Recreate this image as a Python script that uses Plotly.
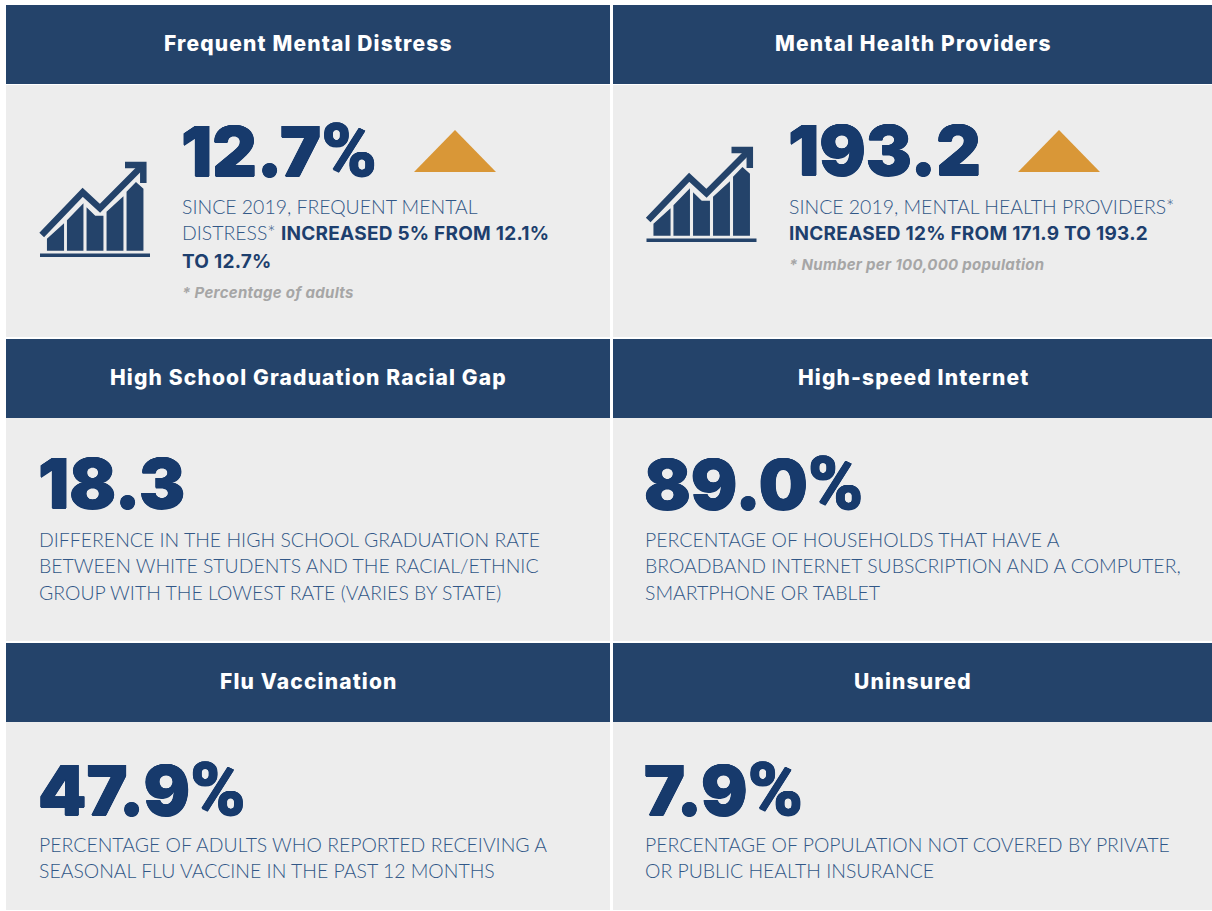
import plotly.graph_objects as go

W, H = 1212, 911
NAVY = "#24436a"
BIG = "#173a6c"
BODY = "#315787"
BOLD = "#1d3f6e"
GOLD = "#d99737"
PANEL = "#ededed"
NOTE = "#a6a6a6"

titles = ["Frequent Mental Distress", "Mental Health Providers",
          "High School Graduation Racial Gap", "High-speed Internet",
          "Flu Vaccination", "Uninsured"]
numbers = ["12.7", "193.2", "18.3", "89.0", "47.9", "7.9"]
units = ["%", "", "", "%", "%", "%"]
body_lines = [
    [("SINCE 2019, FREQUENT MENTAL", ""), ("DISTRESS* ", "INCREASED 5% FROM 12.1%"), ("", "TO 12.7%")],
    [("SINCE 2019, MENTAL HEALTH PROVIDERS*", ""), ("", "INCREASED 12% FROM 171.9 TO 193.2")],
    [("DIFFERENCE IN THE HIGH SCHOOL GRADUATION RATE", ""), ("BETWEEN WHITE STUDENTS AND THE RACIAL/ETHNIC", ""), ("GROUP WITH THE LOWEST RATE (VARIES BY STATE)", "")],
    [("PERCENTAGE OF HOUSEHOLDS THAT HAVE A", ""), ("BROADBAND INTERNET SUBSCRIPTION AND A COMPUTER,", ""), ("SMARTPHONE OR TABLET", "")],
    [("PERCENTAGE OF ADULTS WHO REPORTED RECEIVING A", ""), ("SEASONAL FLU VACCINE IN THE PAST 12 MONTHS", "")],
    [("PERCENTAGE OF POPULATION NOT COVERED BY PRIVATE", ""), ("OR PUBLIC HEALTH INSURANCE", "")],
]
notes = ["* Percentage of adults", "* Number per 100,000 population", None, None, None, None]

col_x = [(6, 610), (613, 1212)]
row_head = [(5, 84), (339, 418), (643, 722)]
row_body = [(85, 337), (418, 641), (722, 910)]
text_x = [182, 789, 39, 645, 39, 645]
num_x = [180.5, 787.5, 37.5, 643.5, 37.5, 643.5]
num_y = [150, 150, 483, 483, 789, 789]
line_y = [[206, 233, 261], [206, 233], [539, 565, 592], [539, 565, 592], [844, 870], [844, 870]]
note_y = [292, 264, None, None, None, None]

fig = go.Figure()
shapes, ann = [], []


def text(x, y, s, size, color, family, weight=400, anchor="left", shadow=None):
    font = dict(size=size, color=color, family=family, weight=weight)
    if shadow:
        font["shadow"] = shadow
    ann.append(dict(x=x, y=y, xref="x", yref="y", text=s, showarrow=False, xanchor=anchor, yanchor="middle",
                    font=font, borderpad=0, borderwidth=0))


def poly(points, fill=None, line=None, width=0):
    path = "M" + " L".join(f"{x},{y}" for x, y in points)
    if fill:
        path += " Z"
    shapes.append(dict(type="path", path=path, xref="x", yref="y", layer="above",
                       fillcolor=fill if fill else "rgba(0,0,0,0)",
                       line=dict(color=line if line else "rgba(0,0,0,0)", width=width)))


def icon(dx, dy):
    def o(pts):
        return [(x + dx, y + dy) for x, y in pts]
    bars = [
        [(47.7, 250), (47.7, 239), (63.3, 225), (63.3, 250)],
        [(67.7, 250), (67.7, 220.5), (82.7, 205), (82.7, 250)],
        [(87.3, 250), (87.3, 209), (95, 216.5), (102.7, 216.5), (102.7, 250)],
        [(107.3, 250), (107.3, 212), (122.7, 198), (122.7, 250)],
        [(127.3, 250), (127.3, 192), (136, 183), (142.7, 189), (142.7, 250)],
    ]
    for b in bars:
        poly(o(b), fill=NAVY, line=NAVY, width=1.5)
    poly(o([(41.7, 235), (82.7, 192.3), (100, 208.3), (143, 165)]), line=NAVY, width=6.5)
    poly(o([(125, 165), (143.3, 165), (143.3, 183)]), line=NAVY, width=6.5)
    poly(o([(40, 253.5), (150, 253.5), (150, 257), (40, 257)]), fill=NAVY)


def body_markup(light, bold):
    out = light
    if bold:
        out += ('<span style="font-family:Inter;font-weight:700;font-size:19px;letter-spacing:0.25px;'
                f'fill:{BOLD}">{bold}</span>')
    return out


heavy = f"0.5px 0 0 {BIG}, -0.5px 0 0 {BIG}, 0 0.5px 0 {BIG}, 0 -0.5px 0 {BIG}"

for i in range(6):
    c, r = i % 2, i // 2
    x0, x1 = col_x[c]
    shapes.append(dict(type="rect", xref="x", yref="y", x0=x0, x1=x1, y0=row_head[r][0], y1=row_head[r][1],
                       fillcolor=NAVY, line_width=0, layer="below"))
    shapes.append(dict(type="rect", xref="x", yref="y", x0=x0, x1=x1, y0=row_body[r][0], y1=row_body[r][1],
                       fillcolor=PANEL, line_width=0, layer="below"))
    text((x0 + x1) / 2 + 0.5, sum(row_head[r]) / 2 - 1,
         f'<span style="letter-spacing:1.15px">{titles[i]}</span>', 21, "#ffffff", "Inter", 800, "center")
    num = numbers[i]
    if units[i]:
        num += f'<span style="font-family:Roboto;font-weight:900;font-size:75px">{units[i]}</span>'
    text(num_x[i], num_y[i], num, 69, BIG, "Inter", 900, shadow=heavy)
    for (light, bold), y in zip(body_lines[i], line_y[i]):
        text(text_x[i], y, body_markup(light, bold), 19.45, BODY, "Lato", 300)
    if notes[i]:
        text(text_x[i], note_y[i], f'<i><span style="letter-spacing:0.3px">{notes[i]}</span></i>', 15, NOTE, "Inter", 700)

poly([(414, 172), (496, 172), (455, 130)], fill=GOLD)
poly([(1018, 172), (1100, 172), (1059, 130)], fill=GOLD)
icon(0, 0)
icon(606.5, -15)

fig.add_trace(go.Scatter(x=[], y=[], showlegend=False))
fig.update_layout(
    width=W, height=H, margin=dict(l=0, r=0, t=0, b=0), paper_bgcolor="white", plot_bgcolor="white",
    xaxis=dict(range=[0, W], visible=False, fixedrange=True),
    yaxis=dict(range=[H, 0], visible=False, fixedrange=True),
    shapes=shapes, annotations=ann, showlegend=False,
)
fig.write_html("out.html", config={"displayModeBar": False},
               post_script="document.body.style.margin='0';document.documentElement.style.overflow='hidden';")
